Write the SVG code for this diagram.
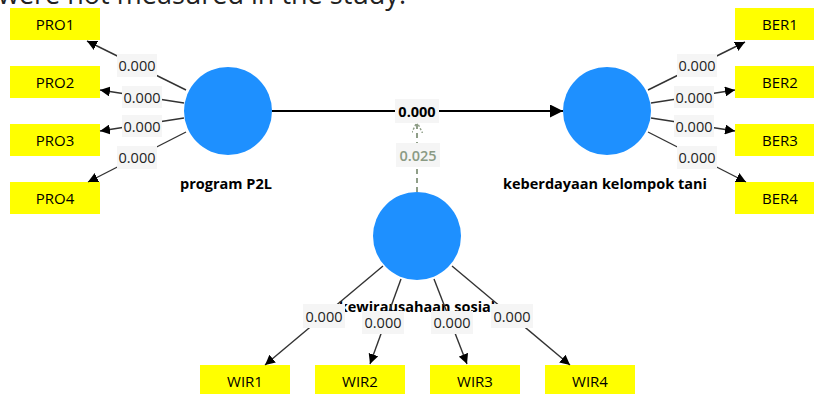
<svg xmlns="http://www.w3.org/2000/svg" width="814" height="394" viewBox="0 0 814 394">
<defs>
<style>
.ind{fill:#ffff00}
.indt{font-family:"Open Sans","Noto Sans",sans-serif;font-size:15px;fill:#000;text-anchor:middle;dominant-baseline:central}
.lv{fill:#1E90FF}
.lvt{font-family:"Open Sans","Noto Sans",sans-serif;font-size:14.5px;font-weight:bold;fill:#000;text-anchor:middle}
.ln{stroke:#333;stroke-width:1.4;fill:none}
.lb{fill:#f5f5f5}
.lbt{font-family:"Open Sans","Noto Sans",sans-serif;font-size:14.5px;fill:#222;text-anchor:middle;dominant-baseline:central}
.main{font-weight:bold;fill:#000}
.mod{fill:#8a9a84;font-weight:600}
</style>
<marker id="ah" viewBox="0 0 10 10" refX="10" refY="5" markerWidth="10" markerHeight="10" markerUnits="userSpaceOnUse" orient="auto">
<path d="M0,0 L10,5 L0,10 z" fill="#000"/>
</marker>
<marker id="ahb" viewBox="0 0 10 10" refX="10" refY="5" markerWidth="13" markerHeight="13" markerUnits="userSpaceOnUse" orient="auto">
<path d="M0,0 L10,5 L0,10 z" fill="#000"/>
</marker>
<marker id="aho" viewBox="0 0 10 10" refX="10" refY="5" markerWidth="11" markerHeight="11" markerUnits="userSpaceOnUse" orient="auto">
<path d="M0,0 L10,5 L0,10" fill="none" stroke="#8f9e88" stroke-width="1.3" stroke-dasharray="2,1.5"/>
</marker>
</defs>
<rect width="814" height="394" fill="#fff"/>
<text x="-2" y="4" font-family="Open Sans, Noto Sans, sans-serif" font-size="27" fill="#222">were not measured in the study.</text>

<g id="PRO1"><rect class="ind" x="10" y="8" width="90" height="32"/><text class="indt" x="55" y="24">PRO1</text></g>
<g id="PRO2"><rect class="ind" x="10" y="66" width="90" height="32"/><text class="indt" x="55" y="82">PRO2</text></g>
<g id="PRO3"><rect class="ind" x="10" y="124" width="90" height="32"/><text class="indt" x="55" y="140">PRO3</text></g>
<g id="PRO4"><rect class="ind" x="10" y="182" width="90" height="32"/><text class="indt" x="55" y="198">PRO4</text></g>
<g id="BER1"><rect class="ind" x="735" y="8" width="90" height="32"/><text class="indt" x="780" y="24">BER1</text></g>
<g id="BER2"><rect class="ind" x="735" y="66" width="90" height="32"/><text class="indt" x="780" y="82">BER2</text></g>
<g id="BER3"><rect class="ind" x="735" y="124" width="90" height="32"/><text class="indt" x="780" y="140">BER3</text></g>
<g id="BER4"><rect class="ind" x="735" y="182" width="90" height="32"/><text class="indt" x="780" y="198">BER4</text></g>
<g id="WIR1"><rect class="ind" x="200" y="365" width="90" height="32"/><text class="indt" x="245" y="381">WIR1</text></g>
<g id="WIR2"><rect class="ind" x="315" y="365" width="90" height="32"/><text class="indt" x="360" y="381">WIR2</text></g>
<g id="WIR3"><rect class="ind" x="430" y="365" width="90" height="32"/><text class="indt" x="475" y="381">WIR3</text></g>
<g id="WIR4"><rect class="ind" x="545" y="365" width="90" height="32"/><text class="indt" x="590" y="381">WIR4</text></g>

<g id="programP2L"><circle class="lv" cx="228" cy="111" r="44"/><text class="lvt" x="226" y="189">program P2L</text></g>
<g id="keberdayaan"><circle class="lv" cx="607" cy="111" r="44"/><text class="lvt" x="605" y="189">keberdayaan kelompok tani</text></g>
<g id="kewirausahaan"><circle class="lv" cx="417" cy="236" r="44"/><text class="lvt" x="417" y="312">kewirausahaan sosial</text></g>

<g id="connectors">
<line class="ln" x1="186" y1="90" x2="87" y2="41" marker-end="url(#ah)"/>
<line class="ln" x1="184" y1="103" x2="100" y2="90" marker-end="url(#ah)"/>
<line class="ln" x1="184" y1="118" x2="100" y2="131" marker-end="url(#ah)"/>
<line class="ln" x1="186" y1="132" x2="88" y2="182" marker-end="url(#ah)"/>
<line class="ln" x1="648" y1="90" x2="745" y2="42" marker-end="url(#ah)"/>
<line class="ln" x1="651" y1="103" x2="735" y2="90" marker-end="url(#ah)"/>
<line class="ln" x1="651" y1="118" x2="735" y2="131" marker-end="url(#ah)"/>
<line class="ln" x1="648" y1="132" x2="746" y2="182" marker-end="url(#ah)"/>
<line class="ln" x1="383" y1="266" x2="265" y2="365" marker-end="url(#ah)"/>
<line class="ln" x1="401" y1="279" x2="370" y2="364" marker-end="url(#ah)"/>
<line class="ln" x1="434" y1="279" x2="467" y2="364" marker-end="url(#ah)"/>
<line class="ln" x1="452" y1="266" x2="570" y2="365" marker-end="url(#ah)"/>
<line x1="272" y1="111" x2="563" y2="111" stroke="#000" stroke-width="2" marker-end="url(#ahb)"/>
<line x1="417" y1="192" x2="417" y2="122" stroke="#8f9e88" stroke-width="2" stroke-dasharray="5,4" marker-end="url(#aho)"/>

<rect class="lb" x="117" y="54" width="40" height="23"/><text class="lbt" x="137" y="65.5">0.000</text>
<rect class="lb" x="122" y="86" width="40" height="22"/><text class="lbt" x="142" y="97">0.000</text>
<rect class="lb" x="122" y="115" width="40" height="22"/><text class="lbt" x="142" y="126">0.000</text>
<rect class="lb" x="117" y="146" width="40" height="23"/><text class="lbt" x="137" y="157">0.000</text>
<rect class="lb" x="677" y="54" width="40" height="23"/><text class="lbt" x="697" y="65.5">0.000</text>
<rect class="lb" x="674" y="86" width="40" height="22"/><text class="lbt" x="694" y="97">0.000</text>
<rect class="lb" x="674" y="115" width="40" height="22"/><text class="lbt" x="694" y="126">0.000</text>
<rect class="lb" x="677" y="146" width="40" height="23"/><text class="lbt" x="697" y="157">0.000</text>
<rect class="lb" x="303" y="304" width="42" height="24"/><text class="lbt" x="324" y="316">0.000</text>
<rect class="lb" x="362" y="311" width="42" height="23"/><text class="lbt" x="383" y="322.5">0.000</text>
<rect class="lb" x="431" y="311" width="42" height="23"/><text class="lbt" x="452" y="322.5">0.000</text>
<rect class="lb" x="491" y="304" width="42" height="24"/><text class="lbt" x="512" y="316">0.000</text>
<rect class="lb" x="395" y="99" width="44" height="24"/><text class="lbt main" x="417" y="111">0.000</text>
<rect class="lb" x="396" y="143" width="44" height="24"/><text class="lbt mod" x="418" y="155">0.025</text>
</g>
</svg>
